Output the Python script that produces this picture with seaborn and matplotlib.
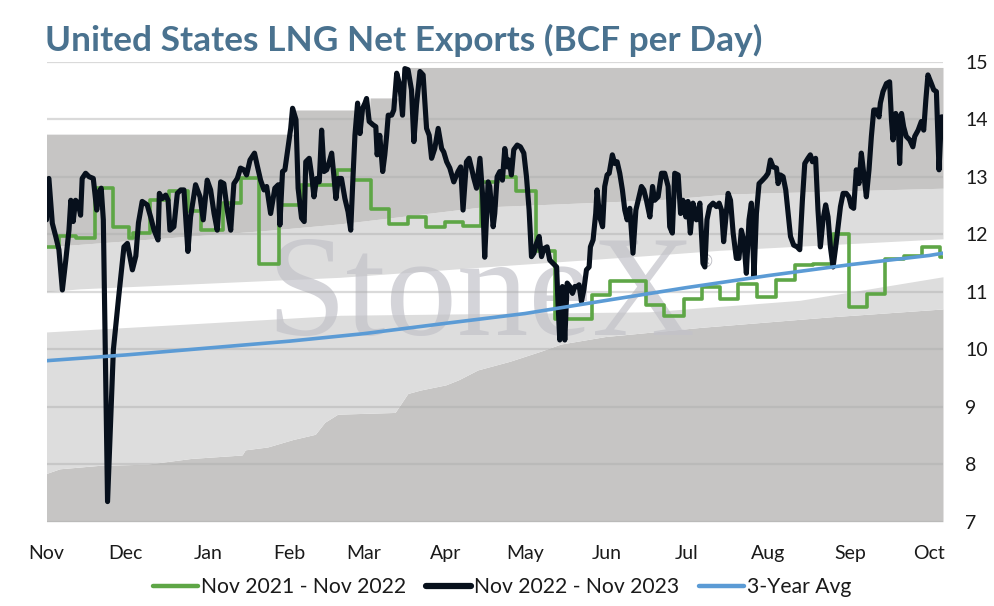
import numpy as np
import pandas as pd
import matplotlib
matplotlib.use("Agg")
import matplotlib.pyplot as plt
import seaborn as sns
from matplotlib.lines import Line2D

# ------------------------------------------------------------------ data
title = "United States LNG Net Exports (BCF per Day)"
month_labels = ["Nov", "Dec", "Jan", "Feb", "Mar", "Apr", "May", "Jun", "Jul", "Aug", "Sep", "Oct"]
season_start = "2022-11-01"
series_names = ["Nov 2021 - Nov 2022", "Nov 2022 - Nov 2023", "3-Year Avg"]

# Nov 2022 - Nov 2023 (days since Nov 1)
black_days = [0, 0.9, 2.2, 3.5, 4.7, 6.0, 7.3, 8.5, 9.2, 10.1, 11.0, 12.0, 12.9, 13.5, 14.8, 16.1, 17.7,
              19.0, 19.9, 20.7, 21.5, 23.1, 25.3, 27.2, 29.3, 30.6, 32.5, 33.8, 34.8, 36.2, 38.1, 39.4,
              40.7, 42.2, 42.7, 43.8, 45.1, 46.0, 46.7, 48.2, 49.5, 50.8, 52.0, 53.5, 54.5, 56.4, 58.1,
              59.3, 60.8, 62.1, 63.4, 64.6, 65.9, 67.1, 68.4, 69.7, 70.9, 72.2, 73.4, 74.7, 75.7, 77.0,
              78.7, 79.7, 81.0, 82.3, 83.3, 84.8, 86.4, 87.7, 88.3, 89.3, 90.2, 91.5, 92.4, 93.1, 94.4,
              95.2, 96.5, 97.5, 98.1, 99.4, 100.3, 101.2, 102.2, 103.2, 104.1, 105.0, 106.0, 107.0,
              107.9, 108.7, 109.5, 110.4, 111.6, 112.9, 114.1, 115.1, 116.0, 116.7, 117.7, 118.6, 119.6,
              120.5, 121.1, 122.1, 123.6, 124.6, 125.1, 126.1, 127.2, 128.0, 128.7, 129.3, 130.6, 131.4,
              132.5, 133.7, 134.7, 135.6, 136.8, 138.1, 139.0, 140.0, 141.3, 142.5, 143.8, 144.8, 145.7,
              146.9, 148.2, 149.5, 150.3, 151.4, 152.6, 154.1, 155.7, 156.7, 157.6, 158.9, 159.9, 160.8,
              161.7, 162.7, 164.0, 165.0, 165.8, 167.1, 167.7, 169.0, 169.6, 170.5, 171.5, 172.5, 173.4,
              174.3, 175.0, 175.9, 176.8, 178.1, 179.3, 180.6, 181.6, 182.6, 183.5, 184.4, 185.4, 186.4,
              187.3, 188.2, 189.4, 190.4, 191.7, 193.0, 193.6, 194.2, 195.2, 196.1, 197.0, 198.0, 199.0,
              199.9, 200.8, 201.5, 202.4, 203.3, 204.3, 205.3, 205.8, 206.8, 207.8, 208.3, 209.3, 210.4,
              211.2, 212.1, 212.9, 214.1, 215.0, 215.9, 216.9, 217.9, 218.8, 219.7, 220.7, 221.9, 223.0,
              224.2, 225.1, 226.0, 227.0, 228.3, 229.3, 230.1, 231.4, 232.7, 233.9, 235.2, 235.8, 236.8,
              237.7, 239.0, 239.9, 240.8, 241.9, 242.7, 243.6, 244.6, 245.9, 247.2, 248.4, 249.1, 249.9,
              250.9, 252.2, 253.5, 254.5, 255.4, 256.2, 257.3, 257.9, 258.8, 259.8, 261.0, 262.0, 262.9,
              263.8, 264.8, 265.8, 266.7, 267.7, 268.6, 269.6, 270.9, 272.1, 273.0, 273.9, 274.9, 276.2,
              276.8, 277.7, 278.7, 279.7, 280.6, 281.5, 282.7, 284.0, 285.0, 286.0, 286.9, 288.1, 289.0,
              289.8, 291.0, 291.9, 292.8, 293.8, 294.8, 295.7, 296.6, 297.6, 298.6, 299.5, 300.4, 301.4,
              302.6, 303.6, 304.5, 305.4, 306.4, 307.4, 308.3, 309.2, 310.2, 311.2, 312.1, 313.0, 314.0,
              315.0, 315.5, 316.5, 317.8, 319.0, 319.7, 320.3, 321.3, 322.2, 322.8, 323.5, 324.3, 325.3,
              326.6, 327.8, 328.5, 329.8, 331.0, 331.9, 332.7, 333.5, 334.8, 335.7, 336.7, 337.7, 338.6,
              339.2]
black_vals = [12.25, 12.97, 12.19, 11.96, 11.73, 11.03, 11.55, 12.07, 12.59, 12.22, 12.59, 12.54, 12.33,
              12.97, 13.06, 13.00, 12.97, 12.42, 12.74, 12.80, 12.25, 7.35, 9.99, 10.86, 11.78, 11.84,
              11.38, 11.62, 12.20, 12.57, 12.51, 12.30, 12.07, 11.90, 12.71, 12.62, 12.68, 12.59, 12.07,
              12.13, 12.71, 12.77, 12.77, 11.70, 12.30, 12.86, 12.65, 12.25, 12.94, 12.77, 12.36, 12.07,
              12.91, 12.88, 12.42, 12.07, 12.88, 12.97, 13.15, 13.12, 13.03, 13.29, 13.41, 13.20, 12.94,
              12.77, 12.83, 12.36, 12.80, 12.86, 12.16, 13.09, 13.12, 13.55, 13.84, 14.19, 13.99, 12.80,
              12.28, 12.22, 13.26, 13.32, 13.03, 12.65, 12.97, 12.91, 13.81, 13.09, 13.12, 13.26, 13.41,
              13.03, 12.62, 12.97, 12.97, 12.62, 12.39, 12.07, 13.03, 13.72, 14.28, 13.75, 14.19, 14.28,
              14.36, 13.96, 13.90, 13.87, 13.38, 13.72, 13.09, 13.38, 13.72, 14.07, 14.07, 14.16, 14.80,
              14.59, 14.07, 14.88, 14.86, 14.51, 13.61, 14.25, 14.83, 14.77, 13.84, 13.72, 13.32, 13.49,
              13.84, 13.49, 13.43, 13.26, 13.15, 12.91, 13.09, 13.17, 12.42, 13.26, 13.32, 13.15, 12.97,
              12.80, 13.32, 12.68, 11.60, 12.91, 12.83, 12.13, 12.36, 13.00, 13.09, 12.94, 13.49, 13.17,
              13.29, 13.03, 13.47, 13.55, 13.52, 13.41, 13.00, 12.42, 11.61, 11.67, 11.84, 11.96, 11.61,
              11.75, 11.78, 11.55, 11.49, 11.43, 10.74, 10.16, 11.09, 10.16, 11.15, 11.09, 10.97, 11.09,
              11.09, 11.12, 10.83, 11.03, 11.38, 11.43, 11.78, 11.90, 12.36, 12.77, 12.30, 12.13, 12.83,
              13.03, 13.06, 13.38, 13.23, 13.26, 13.06, 12.77, 12.42, 12.25, 12.45, 11.67, 12.42, 12.65,
              12.83, 12.77, 12.59, 12.30, 12.83, 12.59, 12.65, 13.06, 13.06, 12.83, 12.13, 12.02, 13.06,
              13.03, 12.36, 12.59, 12.30, 12.57, 12.02, 12.54, 12.25, 12.54, 11.49, 11.43, 12.25, 12.48,
              12.54, 12.48, 12.54, 12.42, 11.87, 12.42, 12.71, 12.59, 12.02, 11.58, 11.58, 12.07, 11.90,
              11.32, 12.25, 12.54, 11.26, 12.36, 12.88, 12.94, 13.00, 13.06, 13.29, 13.17, 13.15, 12.88,
              13.03, 13.00, 12.77, 12.36, 11.96, 11.81, 11.78, 11.73, 12.59, 13.23, 13.32, 13.38, 13.26,
              13.32, 12.42, 11.78, 12.25, 12.51, 12.30, 11.78, 11.43, 11.78, 12.13, 12.48, 12.71, 12.71,
              12.65, 12.48, 12.45, 13.12, 12.88, 13.41, 13.06, 12.65, 13.12, 13.70, 14.16, 14.16, 14.04,
              14.28, 14.48, 14.62, 14.65, 13.99, 13.64, 14.10, 13.99, 13.23, 14.10, 13.87, 13.70, 13.64,
              13.52, 13.70, 13.81, 13.96, 13.81, 14.33, 14.77, 14.62, 14.51, 14.48, 13.12, 14.04, 14.04]

# Nov 2021 - Nov 2022 (weekly, step starts in days since Nov 1)
green_days = [0, 4.7, 11.2, 18.3, 25.0, 31.2, 32.7, 39.3, 46.5, 53.7, 58.4, 66.6, 73.6, 80.4, 87.9,
              96.3, 109.9, 116.0, 122.7, 129.7, 136.9, 143.5, 150.7, 157.5, 164.3, 170.8, 177.8, 185.1,
              192.5, 206.3, 213.1, 226.7, 233.7, 241.1, 248.1, 254.7, 261.7, 268.7, 275.9, 283.1, 289.9,
              297.7, 303.5, 310.3, 317.3, 324.5, 331.3, 337.9, 339.2]
green_vals = [11.78, 11.97, 11.93, 12.80, 12.12, 11.93, 12.02, 12.59, 12.76, 12.41, 12.08, 12.55, 12.97,
              11.49, 12.51, 12.85, 13.11, 12.94, 12.44, 12.17, 12.30, 12.13, 12.22, 12.15, 12.90, 13.00,
              12.76, 11.70, 10.53, 10.95, 11.18, 10.77, 10.57, 10.88, 11.09, 10.88, 11.14, 10.91, 11.21,
              11.46, 11.49, 12.00, 10.74, 10.96, 11.57, 11.62, 11.78, 11.61, 11.61]

# 3-Year average
avg_days = [0, 30, 61, 92, 120, 151, 181, 212, 242, 273, 304, 334, 339.2]
avg_vals = [9.80, 9.90, 10.02, 10.14, 10.27, 10.45, 10.62, 10.85, 11.07, 11.28, 11.47, 11.63, 11.67]

# background range bands
min_days = [0, 5, 20, 37.9, 54.7, 74, 75.2, 83.7, 93.3, 101.7, 105.3, 110.2, 131.9, 136.7, 141.5,
            151.1, 156.0, 163.2, 175.3, 187.3, 194.6, 211.4, 247.6, 295.8, 339.2]
min_vals = [7.84, 7.92, 7.98, 8.00, 8.10, 8.16, 8.25, 8.30, 8.43, 8.52, 8.73, 8.87, 8.90, 9.23, 9.29,
            9.38, 9.47, 9.64, 9.79, 9.97, 10.09, 10.22, 10.38, 10.56, 10.70]
low_days = [0, 58.2, 111, 167.7, 228, 285, 339.2]
low_vals = [10.30, 10.45, 10.59, 10.62, 10.65, 10.85, 11.26]
high_days = [0, 12.7, 111, 171.5, 228, 254.7, 339.2]
high_vals = [11.00, 11.05, 11.25, 11.45, 11.63, 11.72, 11.92]
upper_days = [0, 84.5, 111, 164, 232, 258.5, 339.2]
upper_vals = [11.78, 12.07, 12.18, 12.47, 12.60, 12.70, 12.80]
max_days = [0, 94, 122.3, 134.8, 339.2]
max_vals = [13.74, 14.16, 14.37, 14.90, 14.90]

y_ticks = [7, 8, 9, 10, 11, 12, 13, 14, 15]

# ------------------------------------------------------------------ style
sns.set_style("white")
plt.rcParams["font.family"] = ["Lato", "DejaVu Sans"]

C_DARK = "#c6c5c4"
C_LIGHT = "#dddddd"
C_GREEN = "#5ea646"
C_BLACK = "#07101c"
C_BLUE = "#5b9bd5"
C_TITLE = "#4a728f"
C_TEXT = "#1a1a1a"
C_MARK = (0.76, 0.76, 0.79)

fig = plt.figure(figsize=(9.94, 6.06), dpi=100)
ax = fig.add_axes([46.5 / 994, 1 - 521.7 / 606, (943 - 46.5) / 994, (521.7 - 61.7) / 606])

x_end = 339.2
grid = np.linspace(0, x_end, 1400)
g_min = np.interp(grid, min_days, min_vals)
g_low = np.interp(grid, low_days, low_vals)
g_high = np.interp(grid, high_days, high_vals)
g_up = np.interp(grid, upper_days, upper_vals)
idx = np.searchsorted(np.array(max_days), grid, side="right") - 1
g_max = np.array(max_vals)[np.clip(idx, 0, len(max_vals) - 1)]

ax.fill_between(grid, 7, g_min, color=C_DARK, lw=0, zorder=0.5)
ax.fill_between(grid, g_min, g_low, color=C_LIGHT, lw=0, zorder=0.5)
ax.fill_between(grid, g_high, g_up, color=C_LIGHT, lw=0, zorder=0.5)
ax.fill_between(grid, g_up, g_max, color=C_DARK, lw=0, zorder=0.5)

ax.set_axisbelow("line")
ax.yaxis.grid(True, color=(0.68, 0.68, 0.68), alpha=0.45, lw=1.6)
ax.xaxis.grid(False)

green_df = pd.DataFrame({"day": green_days, "val": green_vals})
black_df = pd.DataFrame({"day": black_days, "val": black_vals})
avg_df = pd.DataFrame({"day": avg_days, "val": avg_vals})

sns.lineplot(data=green_df, x="day", y="val", ax=ax, color=C_GREEN, lw=2.6,
             drawstyle="steps-post", estimator=None, sort=False, zorder=3)
sns.lineplot(data=black_df, x="day", y="val", ax=ax, color=C_BLACK, lw=3.7,
             estimator=None, sort=False, zorder=4, solid_joinstyle="round")
sns.lineplot(data=avg_df, x="day", y="val", ax=ax, color=C_BLUE, lw=2.6,
             estimator=None, sort=False, zorder=5)

ax.set_xlim(0, x_end)
ax.set_ylim(7, 15)
month_pos = [(d - pd.Timestamp(season_start)).days
             for d in pd.date_range(season_start, periods=len(month_labels), freq="MS")]
ax.set_xticks(month_pos)
ax.set_xticklabels(month_labels)
ax.set_yticks(y_ticks)
ax.set_yticklabels([str(v) for v in y_ticks])
ax.yaxis.tick_right()
ax.tick_params(axis="y", length=0, pad=16, labelsize=14, labelcolor=C_TEXT)
ax.tick_params(axis="x", length=0, pad=17, labelsize=14, labelcolor=C_TEXT)
ax.set_xlabel("")
ax.set_ylabel("")
for s in ax.spines.values():
    s.set_visible(False)

handles = [Line2D([], [], color=C_GREEN, lw=3.2),
           Line2D([], [], color=C_BLACK, lw=4.5),
           Line2D([], [], color=C_BLUE, lw=3.2)]
fig.legend(handles, series_names, loc="center", bbox_to_anchor=(0.505, 0.031), ncol=3,
           frameon=False, handlelength=2.15, handletextpad=0.12, columnspacing=0.95,
           fontsize=15.2, labelcolor=C_TEXT)

t = fig.text(45 / 994, 1 - 40 / 606, title, fontsize=22, fontweight="bold", color=C_TITLE,
             ha="left", va="center")

# watermark
wm = ax.text(0.485, 0.405, "StoneX", transform=ax.transAxes, ha="center", va="baseline",
             fontsize=103, family="Liberation Serif", color=C_MARK, alpha=0.7, zorder=1.2)

fig.canvas.draw()
w = t.get_window_extent().width
t.set_fontsize(22 * 716 / w)

# registered mark placed just right of the watermark's box
bb = wm.get_window_extent()
ax_bb = ax.get_window_extent()
rx = (bb.x1 + 2 - ax_bb.x0) / ax_bb.width
ax.text(rx, 0.565, "®", transform=ax.transAxes, ha="left", va="center",
        fontsize=12, family="DejaVu Sans", color=(0.72, 0.72, 0.75), alpha=0.9, zorder=1.2)

fig.savefig("out.png", dpi=100)
